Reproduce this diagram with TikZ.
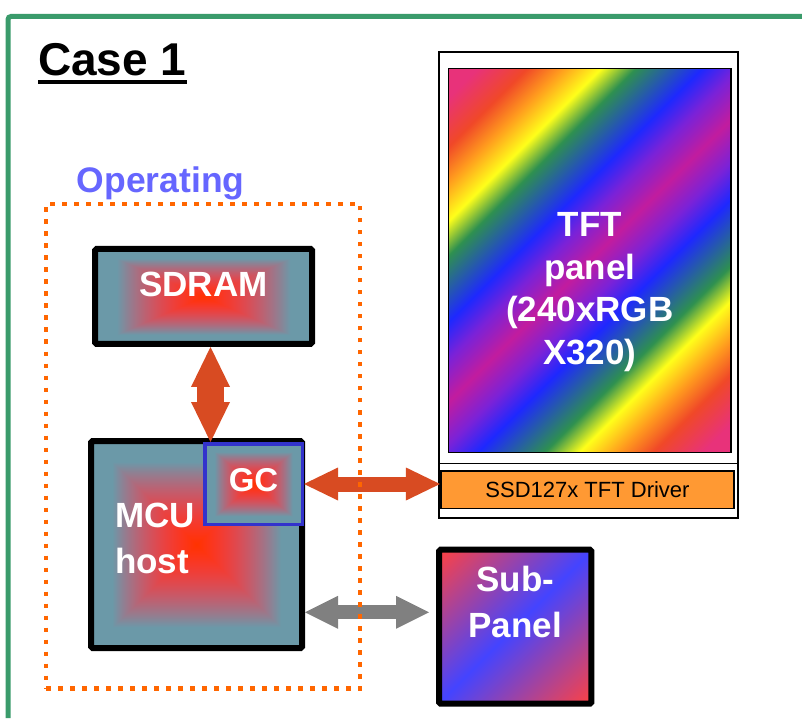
\documentclass[tikz,border=0pt]{standalone}
\usepackage{fontspec}
\setmainfont{Liberation Sans}
\usepackage{tikz}
\usetikzlibrary{positioning,arrows.meta,calc}
\definecolor{FrameGreen}{HTML}{3A9B6B}
\definecolor{DotOrange}{HTML}{FF6600}
\definecolor{OpBlue}{HTML}{6666FF}
\definecolor{BusRed}{HTML}{D84B22}
\definecolor{BusGray}{HTML}{808080}
\definecolor{GCBlue}{HTML}{3333CC}
\definecolor{DrvOrange}{HTML}{FF9933}
\definecolor{RbPink}{HTML}{E8327A}
\definecolor{RbRed}{HTML}{F04828}
\definecolor{RbOrange}{HTML}{FF9A1E}
\definecolor{RbYellow}{HTML}{FFFF1A}
\definecolor{RbGreen}{HTML}{2E9050}
\definecolor{RbBlue}{HTML}{1E28FF}
\definecolor{RbViolet}{HTML}{7A22D8}
\definecolor{RbMagenta}{HTML}{C21C9E}
\definecolor{SubRed}{HTML}{FF4242}
\definecolor{SubBlue}{HTML}{4444FF}
% red core fading to slate teal along rectangular contours
\pgfdeclarefunctionalshading{chipglow}{\pgfpoint{-50bp}{-50bp}}{\pgfpoint{50bp}{50bp}}{}{
  abs exch abs
  2 copy lt {exch} if pop
  25 div 1.25 mul
  dup 1 gt {pop 1} if
  dup dup mul
  dup -0.58 mul 1 add
  exch 0.4 mul 0.2 add
  3 -1 roll 0.66 mul
}
\pgfdeclarehorizontalshading{rainbowpanel}{100bp}{%
  color(0bp)=(RbPink); color(17.5bp)=(RbPink); color(22.8bp)=(RbRed);
  color(26.5bp)=(RbOrange); color(30.7bp)=(RbYellow); color(34.4bp)=(RbGreen);
  color(41.5bp)=(RbBlue); color(45.4bp)=(RbViolet); color(50bp)=(RbMagenta);
  color(54.6bp)=(RbViolet); color(58.5bp)=(RbBlue); color(65.6bp)=(RbGreen);
  color(69.3bp)=(RbYellow); color(73.5bp)=(RbOrange); color(77.2bp)=(RbRed);
  color(82.5bp)=(RbPink); color(100bp)=(RbPink)}
\pgfdeclarehorizontalshading{subglow}{100bp}{%
  color(0bp)=(SubRed); color(14.6bp)=(SubRed); color(50bp)=(SubBlue);
  color(85.4bp)=(SubRed); color(100bp)=(SubRed)}

\begin{document}
\begin{tikzpicture}[
        x=1pt, y=1pt,
        frameline/.style={draw=FrameGreen, line width=5pt, rounded corners=3pt},
        title/.style={font=\fontsize{46}{50}\selectfont\bfseries, inner sep=0pt, anchor=base west},
        optitle/.style={font=\fontsize{35.5}{40}\selectfont\bfseries, text=OpBlue, inner sep=0pt, anchor=base west},
        opbox/.style={draw=DotOrange, line width=4.5pt, dash pattern=on 4.5pt off 7.5pt},
        chip/.style={
            draw=black,
            line width=6pt,
            rounded corners=1.5pt,
            shade, shading=chipglow,
            text=white,
            font=\fontsize{35}{46}\selectfont\bfseries,
            inner sep=0pt
        },
        gcbox/.style={chip, draw=GCBlue, line width=3.5pt, rounded corners=0pt,
            font=\fontsize{33}{40}\selectfont\bfseries},
        lcdframe/.style={draw=black, line width=2pt, fill=white, inner sep=0pt},
        lcd/.style={
            draw=black,
            line width=1.6pt,
            shade, shading=rainbowpanel, shading angle=-45,
            text=white,
            font=\fontsize{35}{42.5}\selectfont\bfseries,
            inner sep=0pt
        },
        drv/.style={draw=black, line width=1.7pt, fill=DrvOrange, inner sep=0pt,
            font=\fontsize{22}{26}\selectfont},
        subbox/.style={chip, shading=subglow, shading angle=-45},
        membus/.style={line width=27pt, BusRed,
            {Triangle[length=40pt,width=39pt,line width=0pt]}-{Triangle[length=40pt,width=39pt,line width=0pt]}},
        lcdbus/.style={line width=15pt, BusRed,
            {Triangle[length=34pt,width=33pt,line width=0pt]}-{Triangle[length=34pt,width=33pt,line width=0pt]}},
        subbus/.style={line width=14pt, BusGray,
            {Triangle[length=33pt,width=33pt,line width=0pt]}-{Triangle[length=33pt,width=33pt,line width=0pt]}}
    ]
        \useasboundingbox (0,0) rectangle (802,718);
        \draw[frameline] (8,0) -- (8,701.5) -- (802,701.5);

        \node[title] (case) at (38,642) {Case 1};
        \draw[line width=4.3pt] ([yshift=-6pt]case.base west) -- ([yshift=-6pt]case.base east);

        % host side
        \node[chip, minimum width=217pt, minimum height=95pt, text height=25pt, text depth=25pt] (sdram) at (203.5,421.5) {SDRAM};
        \node[chip, minimum width=211pt, minimum height=207pt, text width=163pt, align=left,
              text height=26pt, text depth=61pt] (mcu) at (196.5,173.5) {MCU\\host};
        \node[gcbox, minimum width=97.5pt, minimum height=80.5pt, text height=24pt, text depth=10pt] (gc) at (253.5,234) {GC};

        % display side
        \node[lcdframe, minimum width=299.3pt, minimum height=465.5pt] (tftframe) at (588.65,432.75) {};
        \node[lcd, minimum width=282.5pt, minimum height=384pt, text width=200pt, align=center,
              text height=26pt, text depth=73.6pt] (panel) at (589.75,457.5) {TFT\\panel\\(240xRGB\\X320)};
        \node[drv, minimum width=293.4pt, minimum height=37.7pt] (driver) at (587.5,228.3) {SSD127x TFT Driver};
        \coordinate (sepline) at ([yshift=6.6pt]driver.north);
        \draw[line width=1.7pt] (tftframe.west |- sepline) -- (tftframe.east |- sepline);
        \node[subbox, minimum width=152.3pt, minimum height=154pt, text width=140pt, align=center,
              text height=26pt, text depth=96pt] (sub) at (515.2,91.3) {Sub-\\Panel};

        % buses
        \coordinate (memx) at ([xshift=7.5pt]gc.north west);
        \draw[membus] (memx |- sdram.south) -- (memx);
        \draw[lcdbus] (gc.east) -- (gc.east -| driver.west);
        \coordinate (subin) at ([yshift=14.4pt]sub.west);
        \draw[subbus, shorten >=7pt] (mcu.east |- subin) -- (subin);

        \node[opbox, minimum width=314pt, minimum height=484.5pt] (op) at (203,271.75) {};
        \node[optitle] (opname) at ([xshift=33pt,yshift=9pt]op.north west) {Operating};
    \end{tikzpicture}
\end{document}
